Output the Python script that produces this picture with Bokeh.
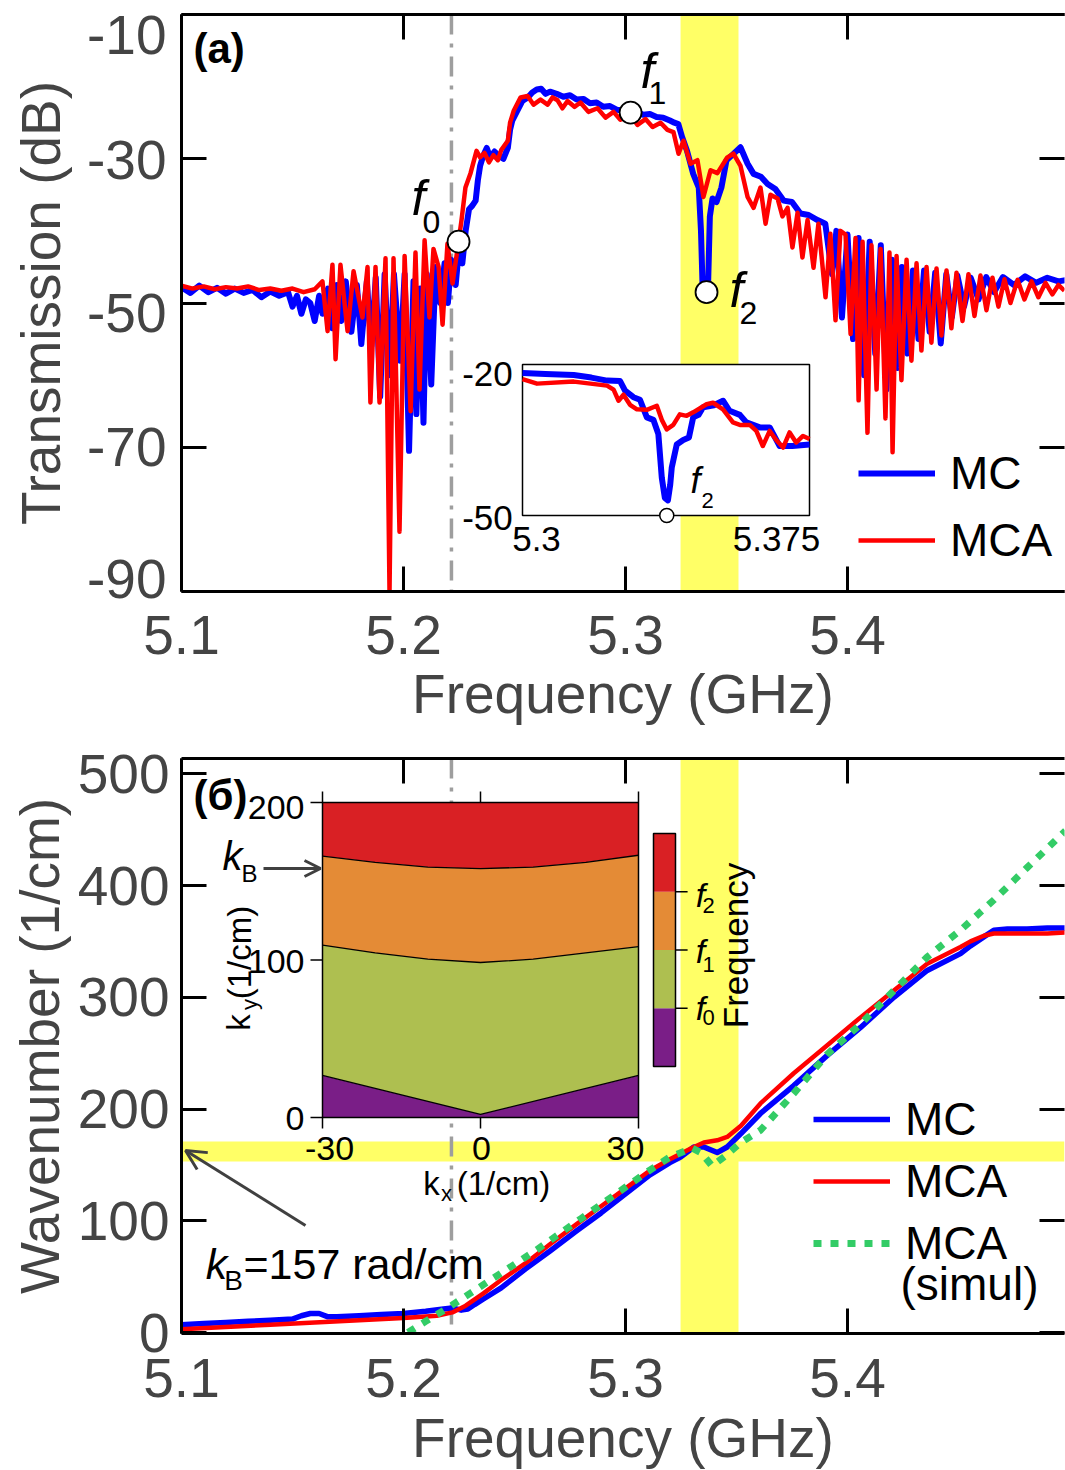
from bokeh.plotting import figure
from bokeh.layouts import column
from bokeh.models import (Range1d, LinearAxis, FixedTicker, BoxAnnotation, Label, Arrow,
                          OpenHead, Legend, LegendItem, CustomJSTickFormatter)
from bokeh.embed import file_html
from bokeh.resources import INLINE

FONT = "Liberation Sans"

# ---------------- data ----------------
freq_ticks = [5.1, 5.2, 5.3, 5.4]
db_ticks = [-90, -70, -50, -30, -10]
k_ticks = [0, 100, 200, 300, 400, 500]

# (a) transmission, MC (blue)
mc_trans = [(5.1000,-47.8),(5.1040,-48.6),(5.1080,-47.6),(5.1120,-48.5),(5.1160,-47.9),(5.1200,-48.7),(5.1240,-48.0),(5.1280,-48.6),(5.1320,-48.2),(5.1360,-49.2),(5.1400,-48.4),(5.1440,-49.0),(5.1480,-48.5),
(5.1500,-50.5),(5.1520,-49.0),(5.1540,-51.5),(5.1560,-49.5),(5.1580,-50.0),(5.1600,-52.5),(5.1620,-49.0),(5.1635,-51.5),
(5.1660,-48.0),(5.1680,-53.5),(5.1700,-47.5),(5.1720,-52.5),(5.1740,-47.0),(5.1765,-54.0),(5.1790,-47.5),(5.1810,-55.7),(5.1835,-47.0),(5.1855,-56.0),(5.1875,-46.5),(5.1895,-63.0),(5.1915,-46.0),(5.1937,-60.0),(5.1957,-46.0),(5.1985,-58.0),(5.2005,-46.0),(5.2025,-70.5),(5.2045,-47.0),(5.2058,-65.4),(5.2075,-48.0),(5.2090,-66.6),(5.2105,-46.0),(5.2125,-61.3),(5.2145,-45.0),(5.2165,-50.0),(5.2185,-44.5),(5.2200,-50.0),(5.2215,-44.0),(5.2235,-47.5),(5.2250,-42.5),(5.2265,-44.5),(5.2280,-40.0),(5.2295,-37.0),(5.2310,-36.5),(5.2325,-35.8),(5.2335,-33.0),(5.2345,-31.0),(5.2360,-29.5),(5.2375,-28.5),(5.2390,-29.8),(5.2410,-29.0),(5.2430,-29.6),(5.2450,-30.0),(5.2470,-28.5),(5.2480,-26.0),(5.2490,-24.7),(5.2510,-23.5),(5.2535,-22.0),(5.2560,-21.5),(5.2580,-20.8),(5.2600,-20.4),(5.2620,-20.3),(5.2640,-21.0),(5.2660,-20.7),(5.2690,-21.0),(5.2720,-21.4),(5.2750,-21.2),(5.2780,-21.8),(5.2810,-21.7),(5.2840,-22.3),(5.2870,-22.2),(5.2900,-22.8),(5.2930,-22.7),(5.2960,-23.2),(5.2990,-23.3),(5.3020,-23.6),(5.3050,-23.5),(5.3080,-23.9),(5.3110,-23.8),(5.3140,-24.2),(5.3170,-24.3),(5.3200,-24.7),(5.3220,-25.0),(5.3238,-25.2),(5.3255,-27.0),(5.3277,-28.9),(5.3305,-32.1),(5.3330,-34.0),(5.3340,-40.0),(5.3347,-47.5),(5.3360,-48.3),(5.3372,-47.5),(5.3380,-38.0),(5.3392,-35.5),(5.3410,-36.0),(5.3432,-34.0),(5.3455,-30.2),(5.3480,-29.5),(5.3518,-28.4),(5.3550,-30.7),(5.3577,-32.1),(5.3610,-32.5),(5.3640,-33.5),(5.3675,-34.2),(5.3712,-35.8),(5.3750,-36.0),(5.3788,-37.6),(5.3825,-37.8),(5.3865,-38.5),(5.3900,-39.0),(5.3930,-46.0),(5.3950,-40.0),(5.3975,-52.0),(5.4000,-40.5),(5.4025,-55.0),(5.4050,-41.0),(5.4075,-60.0),(5.4100,-41.5),(5.4125,-57.0),(5.4150,-42.0),(5.4175,-62.0),(5.4200,-44.0),(5.4225,-59.0),(5.4245,-45.0),(5.4270,-57.0),(5.4295,-45.5),(5.4320,-55.0),(5.4345,-45.5),(5.4370,-54.0),(5.4395,-45.8),(5.4420,-55.6),(5.4445,-46.0),(5.4470,-52.0),(5.4495,-46.2),(5.4525,-50.5),(5.4555,-46.5),(5.4590,-49.5),(5.4625,-46.4),(5.4660,-48.5),(5.4700,-46.4),(5.4750,-47.5),(5.4800,-46.3),(5.4850,-47.2),(5.4900,-46.5),(5.4950,-47.0),(5.4990,-46.8)]

# (a) transmission, MCA (red)
mca_trans = [(5.1000,-47.6),(5.1050,-48.0),(5.1100,-47.7),(5.1150,-48.1),(5.1200,-47.8),(5.1250,-48.0),(5.1300,-47.7),(5.1350,-48.2),(5.1400,-48.0),(5.1450,-48.3),(5.1500,-48.0),(5.1550,-48.5),(5.1600,-48.1),(5.1635,-47.0),
(5.1658,-53.9),(5.1680,-44.7),(5.1694,-57.8),(5.1716,-44.7),(5.1748,-53.9),(5.1775,-45.6),(5.1815,-52.0),(5.1838,-45.0),(5.1851,-63.8),(5.1874,-45.0),(5.1892,-63.8),(5.1919,-43.8),(5.1937,-90.0),(5.1955,-43.8),(5.1982,-81.7),(5.2005,-43.5),(5.2032,-65.0),(5.2054,-43.0),(5.2072,-62.0),(5.2095,-41.3),(5.2117,-52.0),(5.2135,-42.5),(5.2158,-45.0),(5.2176,-53.0),(5.2198,-41.8),(5.2221,-47.3),(5.2248,-41.5),(5.2261,-38.6),(5.2279,-34.0),(5.2302,-32.0),(5.2329,-28.9),(5.2345,-29.8),(5.2365,-29.2),(5.2385,-30.5),(5.2405,-29.5),(5.2425,-30.2),(5.2440,-28.8),(5.2470,-27.5),(5.2480,-25.0),(5.2497,-23.3),(5.2527,-21.5),(5.2559,-21.3),(5.2586,-22.5),(5.2617,-21.8),(5.2649,-22.5),(5.2671,-21.5),(5.2694,-21.9),(5.2716,-23.0),(5.2739,-22.0),(5.2770,-22.8),(5.2797,-22.2),(5.2833,-23.5),(5.2874,-23.0),(5.2910,-24.3),(5.2946,-23.5),(5.2977,-24.6),(5.3023,-24.0),(5.3054,-25.3),(5.3090,-24.5),(5.3122,-25.6),(5.3158,-25.0),(5.3189,-26.0),(5.3216,-26.3),(5.3239,-29.3),(5.3261,-27.5),(5.3293,-30.7),(5.3324,-30.2),(5.3351,-35.3),(5.3383,-31.6),(5.3414,-32.0),(5.3459,-29.8),(5.3486,-29.3),(5.3518,-31.0),(5.3550,-35.3),(5.3577,-36.8),(5.3608,-34.0),(5.3631,-39.0),(5.3653,-35.0),(5.3685,-35.5),(5.3707,-38.0),(5.3730,-36.8),(5.3752,-42.3),(5.3775,-37.5),(5.3797,-43.7),(5.3820,-38.5),(5.3847,-45.1),(5.3869,-39.0),(5.3901,-49.2),(5.3923,-40.4),(5.3946,-52.4),(5.3968,-40.0),(5.3991,-40.5),(5.4014,-54.3),(5.4036,-41.0),(5.4050,-63.5),(5.4068,-41.5),(5.4090,-68.0),(5.4108,-42.0),(5.4131,-62.0),(5.4149,-42.5),(5.4171,-66.0),(5.4189,-43.0),(5.4203,-70.7),(5.4221,-43.5),(5.4243,-60.7),(5.4266,-44.0),(5.4288,-58.0),(5.4311,-44.5),(5.4333,-56.6),(5.4356,-45.0),(5.4378,-55.5),(5.4401,-45.2),(5.4423,-54.5),(5.4446,-45.5),(5.4468,-53.5),(5.4491,-45.8),(5.4518,-52.5),(5.4545,-46.0),(5.4572,-51.8),(5.4599,-46.2),(5.4626,-51.0),(5.4653,-46.5),(5.4680,-50.5),(5.4707,-46.7),(5.4734,-50.0),(5.4766,-46.8),(5.4797,-49.5),(5.4829,-47.0),(5.4860,-49.2),(5.4892,-47.2),(5.4923,-48.8),(5.4950,-47.5),(5.4977,-48.3)]

# (a) inset, 5.3 - 5.375 GHz
inset_mc = [(5.3000,-21.7),(5.3060,-21.9),(5.3134,-22.1),(5.3180,-22.6),(5.3221,-23.2),(5.3255,-23.3),(5.3268,-25.2),(5.3290,-26.5),(5.3307,-27.0),(5.3325,-30.5),(5.3342,-31.0),(5.3355,-33.8),(5.3364,-42.5),(5.3372,-46.5),(5.3380,-47.0),(5.3386,-43.9),(5.3390,-40.5),(5.3403,-35.9),(5.3420,-35.0),(5.3435,-34.5),(5.3446,-30.5),(5.3460,-30.0),(5.3472,-28.5),(5.3500,-28.1),(5.3524,-27.2),(5.3541,-29.2),(5.3568,-30.0),(5.3585,-31.5),(5.3620,-32.5),(5.3646,-32.5),(5.3672,-36.2),(5.3705,-36.2),(5.3750,-35.9)]
inset_mca = [(5.3000,-22.9),(5.3038,-23.8),(5.3134,-23.4),(5.3221,-24.2),(5.3238,-25.0),(5.3251,-27.2),(5.3264,-26.0),(5.3281,-28.0),(5.3299,-28.9),(5.3325,-29.0),(5.3351,-28.2),(5.3364,-31.0),(5.3377,-32.9),(5.3394,-32.0),(5.3411,-29.9),(5.3429,-30.2),(5.3446,-29.5),(5.3481,-27.9),(5.3498,-27.6),(5.3524,-28.9),(5.3550,-31.5),(5.3568,-32.0),(5.3594,-32.0),(5.3611,-33.2),(5.3628,-36.2),(5.3646,-33.2),(5.3663,-35.0),(5.3681,-36.5),(5.3698,-33.5),(5.3715,-35.5),(5.3733,-34.2),(5.3750,-34.8)]

mark_f = [5.2248, 5.3023, 5.3365]
mark_db = [-41.5, -23.6, -48.5]
inset_mark_f = [5.3377]
inset_mark_db = [-50.0]

# (б) wavenumber
mc_wave = [(5.100,7),(5.110,8),(5.120,9),(5.130,10),(5.140,11),(5.150,12),(5.154,15),(5.158,17),(5.162,17),(5.166,14),(5.170,14),(5.180,15),(5.190,16),(5.200,17),(5.210,19),(5.218,21),(5.222,22),(5.226,20),(5.229,21),(5.232,25),(5.236,30),(5.244,40),(5.255,57),(5.266,73),(5.278,91),(5.289,107),(5.300,124),(5.311,141),(5.320,152),(5.3248,157),(5.3308,166),(5.3353,166),(5.3413,161),(5.3458,166),(5.3520,178),(5.3608,196),(5.3758,221),(5.3909,248),(5.4059,273),(5.4209,300),(5.4359,324),(5.4509,339),(5.4554,346),(5.4614,354),(5.4659,360),(5.4720,361),(5.4809,361),(5.4900,362),(5.4982,362)]
mca_wave = [(5.100,3),(5.120,5),(5.140,7),(5.160,9),(5.180,11),(5.200,13),(5.215,15),(5.222,18),(5.228,24),(5.236,35),(5.244,47),(5.255,62),(5.266,79),(5.278,97),(5.289,113),(5.300,129),(5.311,145),(5.320,155),(5.3248,160),(5.3308,166),(5.3353,170),(5.3413,172),(5.3458,175),(5.3520,185),(5.3608,205),(5.3758,232),(5.3909,257),(5.4059,282),(5.4209,306),(5.4359,330),(5.4509,345),(5.4554,350),(5.4614,355),(5.4659,357),(5.4720,357),(5.4809,357),(5.4900,357),(5.4982,358)]
sim_wave = [(5.2020,0),(5.2100,10),(5.2200,22),(5.2300,35),(5.2400,48),(5.2500,61),(5.2600,74),(5.2700,88),(5.2800,102),(5.2900,116),(5.3000,130),(5.3100,144),(5.3200,157),(5.3300,165),(5.3340,161),(5.3390,149),(5.3450,158),(5.3520,170),(5.3608,181),(5.3758,214),(5.3909,249),(5.4059,276),(5.4209,306),(5.4359,336),(5.4509,360),(5.4659,387),(5.4809,416),(5.4982,449)]

band_f = (5.3248, 5.3509)
band_k = (153, 171)
f_line = 5.2216

# inset of (б): iso-frequency zones in (kx, ky)
kx_lim = (-30, 30)
ky_lim = (0, 200)
kx_ticks = [-30, 0, 30]
ky_ticks = [0, 100, 200]
bnd_f0_kx = [-30, 0, 30]
bnd_f0_ky = [26.7, 2.0, 26.7]
bnd_kx = [-30, -20, -10, 0, 10, 20, 30]
bnd_f1_ky = [109.4, 104.5, 100.5, 98.4, 100.5, 104.5, 108.5]
bnd_f2_ky = [166.0, 162.0, 159.0, 158.0, 159.0, 162.0, 166.5]
zone_colors = ["#7A1E87", "#AEBF50", "#E48B36", "#D92024"]
zone_levels = [0, 1, 2, 3, 4]

BLUE, RED, GREEN, YEL, GRAY = "#0000FF", "#FF0000", "#33CC66", "#FFFF66", "#9E9E9E"

# ---------------- layout helpers (page pixels) ----------------
FL, FR = 181, 1064
T_TOP, T_BOT = 14, 591
H1 = 738
B_TOP, B_BOT = 758, 1333
PX_PER_GHZ = 2220.0
X0 = 5.1
X1 = X0 + (FR - FL) / PX_PER_GHZ
DB_LIM = (-90, -10)
DB_LABEL_PX = [578, 446, 312, 159, 34]   # where the reference prints the dB labels
K_ZERO_PX, K_PX = 1332.0, 1.1175
K_LIM = ((K_ZERO_PX - B_BOT) / K_PX, (K_ZERO_PX - B_TOP) / K_PX)


def X(px):
    return X0 + (px - FL) / PX_PER_GHZ


def Y1(py):
    return DB_LIM[1] - (py - T_TOP) * (DB_LIM[1] - DB_LIM[0]) / (T_BOT - T_TOP)


def Y2(py):
    return K_LIM[0] + (B_BOT - py) * (K_LIM[1] - K_LIM[0]) / (B_BOT - B_TOP)


def sub_x(v0, p0, v1, p1):
    s = (v1 - v0) / (p1 - p0)
    return Range1d(start=v0 + (FL - p0) * s, end=v0 + (FR - p0) * s)


def sub_y(v0, p0, v1, p1, top, bot):
    s = (v1 - v0) / (p1 - p0)
    return Range1d(start=v0 + (bot - p0) * s, end=v0 + (top - p0) * s)


def unz(pairs):
    return [a for a, _ in pairs], [b for _, b in pairs]


def txt(p, fy, px, py, text, size, style="normal", align="center", baseline="middle", angle=0.0):
    p.add_layout(Label(x=X(px), y=fy(py), text=text, text_font=FONT, text_font_size=f"{size}px",
                       text_font_style=style, text_align=align, text_baseline=baseline, angle=angle,
                       text_color="black"))


def style_axis(ax, ticks, label, standoff, lab_standoff):
    ax.ticker = FixedTicker(ticks=ticks)
    ax.axis_line_width = 3
    ax.axis_line_color = "black"
    ax.major_tick_line_width = 3
    ax.major_tick_line_color = "black"
    ax.major_tick_in = 25
    ax.major_tick_out = 0
    ax.minor_tick_line_alpha = 0
    ax.major_label_text_font = FONT
    ax.major_label_text_font_size = "55px"
    ax.major_label_standoff = standoff
    ax.axis_label = label
    ax.axis_label_text_font = FONT
    ax.axis_label_text_font_size = "55px"
    ax.axis_label_text_font_style = "normal"
    ax.axis_label_standoff = lab_standoff


def blank_axis(ticks, line=True):
    ax = LinearAxis(ticker=FixedTicker(ticks=ticks), formatter=CustomJSTickFormatter(code="return ''"),
                    major_tick_in=25, major_tick_out=0, major_tick_line_width=3,
                    axis_line_width=3, major_label_standoff=0, major_label_text_font_size="0px",
                    minor_tick_line_alpha=0)
    if not line:
        ax.axis_line_alpha = 0
    return ax


def make_fig(frame_h, top_b, bot_b, ylim, **kw):
    p = figure(frame_width=FR - FL, frame_height=frame_h, x_range=Range1d(X0, X1),
               y_range=Range1d(*ylim), min_border_left=FL, min_border_right=1,
               min_border_top=top_b, min_border_bottom=bot_b, toolbar_location=None,
               output_backend="svg", background_fill_color="white", border_fill_color="white", **kw)
    p.grid.visible = False
    p.outline_line_alpha = 0
    return p


def legend(p, entries, loc, spacing):
    items = [LegendItem(label=label, renderers=[r]) for label, r in entries]
    p.add_layout(Legend(items=items, location=loc, label_text_font=FONT, label_text_font_size="46px",
                        label_text_color="black", glyph_width=77, glyph_height=20, label_standoff=15,
                        spacing=spacing, padding=0, margin=0, border_line_alpha=0,
                        background_fill_alpha=0))


# ================= panel (a) =================
p1 = make_fig(T_BOT - T_TOP, T_TOP, H1 - T_BOT, DB_LIM, y_axis_location=None)
style_axis(p1.xaxis[0], freq_ticks, "Frequency (GHz)", 24, 6)
p1.xaxis[0].level = "overlay"
p1.add_layout(blank_axis(freq_ticks), "above")
p1.add_layout(blank_axis(db_ticks, line=False), "right")
# left: tick marks at the dB values, labels where the reference prints them
p1.add_layout(blank_axis(db_ticks), "left")
lab_pos = [round(Y1(py), 6) for py in DB_LABEL_PX]
lab_axis = LinearAxis(ticker=FixedTicker(ticks=lab_pos),
                      major_label_overrides={v: str(t) for v, t in zip(lab_pos, db_ticks)},
                      axis_line_alpha=0, major_tick_line_alpha=0, major_tick_in=0, major_tick_out=0,
                      minor_tick_line_alpha=0, major_label_text_font=FONT, major_label_text_font_size="55px",
                      major_label_standoff=15, axis_label="Transmission (dB)", axis_label_text_font=FONT,
                      axis_label_text_font_size="55px", axis_label_text_font_style="normal",
                      axis_label_standoff=12)
p1.add_layout(lab_axis, "left")

p1.add_layout(BoxAnnotation(left=band_f[0], right=band_f[1], top=DB_LIM[1], bottom=DB_LIM[0],
                            fill_color=YEL, fill_alpha=1, line_alpha=0, level="underlay"))
p1.add_layout(BoxAnnotation(left=band_f[0], right=band_f[1], top=DB_LIM[0], bottom=Y1(H1 + 2),
                            fill_color=YEL, fill_alpha=1, line_alpha=0, level="annotation"))
p1.line([f_line, f_line], [DB_LIM[1], DB_LIM[0]], line_color=GRAY, line_width=3.5, line_dash="20 9 4 9")
p1.add_layout(Arrow(end=None, x_start=f_line, y_start=DB_LIM[0], x_end=f_line, y_end=Y1(H1 + 2),
                    line_color=GRAY, line_width=3.5, line_dash="20 9 4 9", level="annotation"))

fx, fy = unz(mc_trans)
r_mc = p1.line(fx, fy, line_color=BLUE, line_width=6, line_join="round")
fx, fy = unz(mca_trans)
r_mca = p1.line(fx, fy, line_color=RED, line_width=4.5, line_join="round")
p1.scatter(mark_f, mark_db, size=22, fill_color="white", line_color="black", line_width=1.8)

# inset of (a)
INS_F, INS_DB = (5.3, 5.375), (-50, -20)
p1.extra_x_ranges = {"ix": sub_x(INS_F[0], 522, INS_F[1], 809)}
p1.extra_y_ranges = {"iy": sub_y(INS_DB[0], 515, INS_DB[1], 364, T_TOP, T_BOT)}
p1.quad(left=INS_F[0], right=INS_F[1], bottom=INS_DB[0], top=INS_DB[1], fill_color="white",
        line_color="black", line_width=1.5, x_range_name="ix", y_range_name="iy")
fx, fy = unz(inset_mc)
p1.line(fx, fy, line_color=BLUE, line_width=6, line_join="round", x_range_name="ix", y_range_name="iy")
fx, fy = unz(inset_mca)
p1.line(fx, fy, line_color=RED, line_width=4.5, line_join="round", x_range_name="ix", y_range_name="iy")
p1.scatter(inset_mark_f, inset_mark_db, size=14, fill_color="white", line_color="black", line_width=1.5,
           x_range_name="ix", y_range_name="iy")

legend(p1, [("MC", r_mc), ("MCA", r_mca)], (858 - FL, T_BOT - 567), 13)

txt(p1, Y1, 193, 48, "(a)", 42, style="bold", align="left")
for (fxp, fyp, sxp, syp, s) in [(418, 197, 431, 221, "0"), (647, 70, 657, 92, "1"), (736, 289, 748, 312, "2")]:
    txt(p1, Y1, fxp, fyp, "f", 50, style="italic")
    txt(p1, Y1, sxp, syp, s, 32)
txt(p1, Y1, 487, 373, "-20", 35)
txt(p1, Y1, 487, 517, "-50", 35)
txt(p1, Y1, 536, 538, "5.3", 35)
txt(p1, Y1, 776, 538, "5.375", 35)
txt(p1, Y1, 695, 480, "f", 36, style="italic")
txt(p1, Y1, 707, 500, "2", 22)

# ================= panel (б) =================
p2 = make_fig(B_BOT - B_TOP, B_TOP - H1, 125, K_LIM)
style_axis(p2.xaxis[0], freq_ticks, "Frequency (GHz)", 25, 7)
style_axis(p2.yaxis[0], k_ticks, "Wavenumber (1/cm)", 12, 4)
top2 = blank_axis(freq_ticks)
top2.level = "overlay"
p2.add_layout(top2, "above")
p2.add_layout(blank_axis(k_ticks, line=False), "right")

p2.add_layout(BoxAnnotation(left=band_f[0], right=band_f[1], top=K_LIM[1], bottom=K_LIM[0],
                            fill_color=YEL, fill_alpha=1, line_alpha=0, level="underlay"))
p2.add_layout(BoxAnnotation(left=band_f[0], right=band_f[1], top=Y2(H1 - 2), bottom=K_LIM[1],
                            fill_color=YEL, fill_alpha=1, line_alpha=0, level="annotation"))
p2.add_layout(BoxAnnotation(left=X0, right=X1, top=band_k[1], bottom=band_k[0],
                            fill_color=YEL, fill_alpha=1, line_alpha=0, level="underlay"))
p2.line([f_line, f_line], [K_LIM[1], K_LIM[0]], line_color=GRAY, line_width=3.5, line_dash="20 9 4 9")
p2.add_layout(Arrow(end=None, x_start=f_line, y_start=Y2(H1 - 2), x_end=f_line, y_end=K_LIM[1],
                    line_color=GRAY, line_width=3.5, line_dash="20 9 4 9", level="annotation"))

# inset of (б)
p2.extra_x_ranges = {"kx": sub_x(kx_lim[0], 322, kx_lim[1], 638), "cbx": sub_x(0, 653, 1, 675)}
p2.extra_y_ranges = {"ky": sub_y(ky_lim[0], 1117, ky_lim[1], 802, B_TOP, B_BOT),
                     "cby": sub_y(zone_levels[0], 1066, zone_levels[-1], 833, B_TOP, B_BOT)}
zx = [bnd_f0_kx + [kx_lim[1], kx_lim[0]],
      bnd_f0_kx + bnd_kx[::-1],
      bnd_kx + bnd_kx[::-1],
      bnd_kx + [kx_lim[1], kx_lim[0]]]
zy = [bnd_f0_ky + [ky_lim[0], ky_lim[0]],
      bnd_f0_ky + bnd_f1_ky[::-1],
      bnd_f1_ky + bnd_f2_ky[::-1],
      bnd_f2_ky + [ky_lim[1], ky_lim[1]]]
p2.patches(zx, zy, fill_color=zone_colors, line_alpha=0, x_range_name="kx", y_range_name="ky")
p2.multi_line([bnd_f0_kx, bnd_kx, bnd_kx], [bnd_f0_ky, bnd_f1_ky, bnd_f2_ky], line_color="black",
              line_width=1.3, x_range_name="kx", y_range_name="ky")
p2.quad(left=kx_lim[0], right=kx_lim[1], bottom=ky_lim[0], top=ky_lim[1], fill_alpha=0,
        line_color="black", line_width=1.5, x_range_name="kx", y_range_name="ky")
tlx = 12 * (kx_lim[1] - kx_lim[0]) / (638 - 322)
tly = 11 * (ky_lim[1] - ky_lim[0]) / (1117 - 802)
p2.segment(x0=[kx_lim[0]] * 3, y0=ky_ticks, x1=[kx_lim[0] - tlx] * 3, y1=ky_ticks,
           line_color="black", line_width=1.5, x_range_name="kx", y_range_name="ky")
p2.segment(x0=kx_ticks * 2, y0=[ky_lim[0]] * 3 + [ky_lim[1]] * 3, x1=kx_ticks * 2,
           y1=[ky_lim[0] - tly] * 3 + [ky_lim[1] + tly] * 3,
           line_color="black", line_width=1.5, x_range_name="kx", y_range_name="ky")
# colour bar of the inset
p2.quad(left=0, right=1, bottom=zone_levels[:-1], top=zone_levels[1:], fill_color=zone_colors,
        line_alpha=0, x_range_name="cbx", y_range_name="cby")
p2.quad(left=0, right=1, bottom=zone_levels[0], top=zone_levels[-1], fill_alpha=0,
        line_color="black", line_width=1.5, x_range_name="cbx", y_range_name="cby")
p2.segment(x0=[1] * 3, y0=zone_levels[1:4], x1=[1.55] * 3, y1=zone_levels[1:4],
           line_color="black", line_width=1.5, x_range_name="cbx", y_range_name="cby")

fx, fy = unz(mc_wave)
r2_mc = p2.line(fx, fy, line_color=BLUE, line_width=5.5, line_join="round")
fx, fy = unz(mca_wave)
r2_mca = p2.line(fx, fy, line_color=RED, line_width=4.5, line_join="round")
fx, fy = unz(sim_wave)
r2_sim = p2.line(fx, fy, line_color=GREEN, line_width=7, line_dash="8 9")

legend(p2, [("MC", r2_mc), ("MCA", r2_mca), ("MCA", r2_sim)], (813 - FL, B_BOT - 1270), 8)
txt(p2, Y2, 900, 1283, "(simul)", 46, align="left")

txt(p2, Y2, 193, 795, "(б)", 42, style="bold", align="left")
for lab, py in zip(["200", "100", "0"], [807, 961, 1118]):
    txt(p2, Y2, 304, py, lab, 34, align="right")
for lab, px in zip(["-30", "0", "30"], [329, 481, 625]):
    txt(p2, Y2, px, 1148, lab, 34)
txt(p2, Y2, 431, 1183, "k", 33)
txt(p2, Y2, 446, 1193, "x", 22)
txt(p2, Y2, 503, 1183, "(1/cm)", 33)
txt(p2, Y2, 238, 1022, "k", 33, angle=1.5708)
txt(p2, Y2, 249, 1004, "y", 22, angle=1.5708)
txt(p2, Y2, 239, 952, "(1/cm)", 33, angle=1.5708)
txt(p2, Y2, 735, 945, "Frequency", 35, angle=1.5708)
for s, fyp, syp in [("2", 894, 905), ("1", 950, 964), ("0", 1007, 1017)]:
    txt(p2, Y2, 700, fyp, "f", 34, style="italic")
    txt(p2, Y2, 708, syp, s, 22)
txt(p2, Y2, 232, 855, "k", 40, style="italic")
txt(p2, Y2, 249, 873, "B", 24)
p2.add_layout(Arrow(end=OpenHead(size=16, line_width=3, line_color="#404040"),
                    x_start=X(263), y_start=Y2(868), x_end=X(320), y_end=Y2(868),
                    line_color="#404040", line_width=3))
txt(p2, Y2, 216, 1263, "k", 43, style="italic")
txt(p2, Y2, 233, 1280, "B", 28)
txt(p2, Y2, 243, 1263, "=157 rad/cm", 43, align="left")
p2.add_layout(Arrow(end=OpenHead(size=20, line_width=3, line_color="#404040"),
                    x_start=X(305), y_start=Y2(1225), x_end=X(185), y_end=Y2(1150),
                    line_color="#404040", line_width=3))

layout = column(p1, p2, spacing=0)
open("out.html", "w").write(file_html(layout, INLINE))
